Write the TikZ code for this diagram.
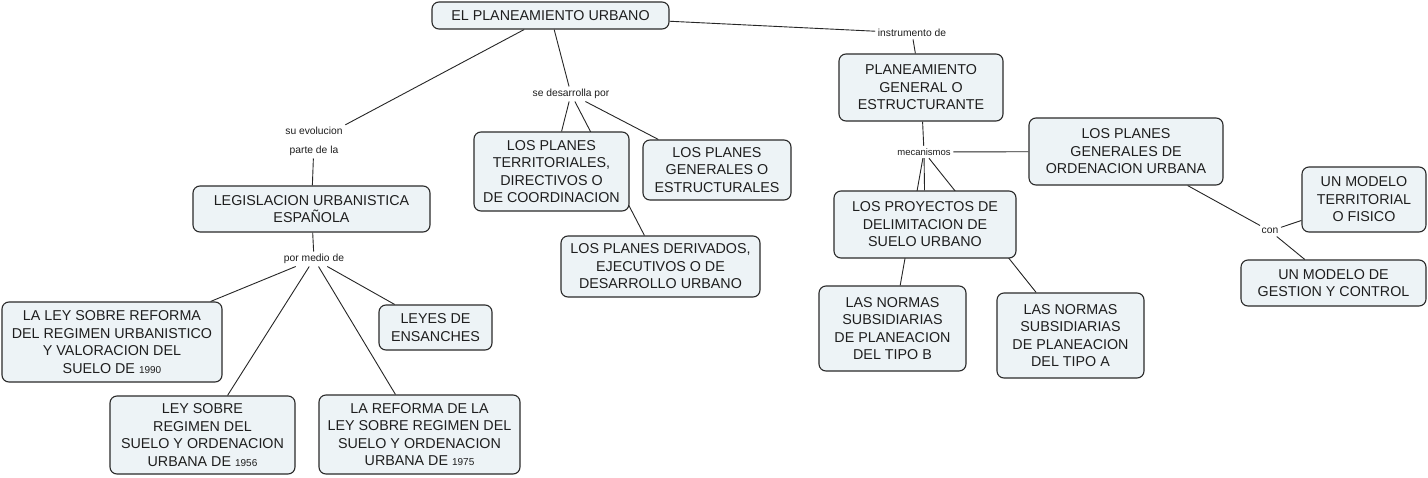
\documentclass[tikz,border=0pt]{standalone}
\usepackage{fontspec}
\setmainfont{Liberation Sans}
\usetikzlibrary{backgrounds}
\definecolor{boxfill}{HTML}{EDF3F6}
\definecolor{boxline}{HTML}{2A2A2A}
\definecolor{boxtext}{HTML}{1E1E1E}
\tikzset{
  cbox/.style={draw=boxline, line width=1.1pt, fill=boxfill, rounded corners=7pt,
    align=center, inner sep=2pt, text=boxtext,
    font=\fontsize{14.3}{17.5}\selectfont},
  clabel/.style={align=center, inner sep=2.5pt, text=boxtext,
    font=\fontsize{10.3}{19}\selectfont},
  conn/.style={draw=black!85, line width=0.9pt},
}
\newcommand{\yr}[1]{{\fontsize{10}{17.5}\selectfont #1}}
\begin{document}
\begin{tikzpicture}[x=1pt,y=-1pt]
\useasboundingbox (0,0) rectangle (1428,477);
% boxes
\node[cbox, minimum width=237pt, minimum height=27pt] (root) at (550.5,15.5) {EL PLANEAMIENTO URBANO};
\node[cbox, minimum width=164pt, minimum height=67pt] (pg) at (921,87.5) {PLANEAMIENTO\\GENERAL O\\ESTRUCTURANTE};
\node[cbox, minimum width=237pt, minimum height=46pt] (leg) at (311.5,209) {LEGISLACION URBANISTICA\\ESPAÑOLA};
\node[cbox, minimum width=155pt, minimum height=79pt] (terr) at (551.5,171.5) {LOS PLANES\\TERRITORIALES,\\DIRECTIVOS O\\DE COORDINACION};
\node[cbox, minimum width=148pt, minimum height=60pt] (estr) at (717,170) {LOS PLANES\\GENERALES O\\ESTRUCTURALES};
\node[cbox, minimum width=199pt, minimum height=61pt] (der) at (660.5,266.5) {LOS PLANES DERIVADOS,\\EJECUTIVOS O DE\\DESARROLLO URBANO};
\node[cbox, minimum width=220pt, minimum height=80pt] (ley90) at (112,342) {LA LEY SOBRE REFORMA\\DEL REGIMEN URBANISTICO\\Y VALORACION DEL\\SUELO DE \yr{1990}};
\node[cbox, minimum width=113pt, minimum height=45pt] (ens) at (435.5,327.5) {LEYES DE\\ENSANCHES};
\node[cbox, minimum width=185pt, minimum height=78pt] (ley56) at (202.5,435) {LEY SOBRE\\REGIMEN DEL\\SUELO Y ORDENACION\\URBANA DE \yr{1956}};
\node[cbox, minimum width=201pt, minimum height=79pt] (ley75) at (419.5,434.5) {LA REFORMA DE LA\\LEY SOBRE REGIMEN DEL\\SUELO Y ORDENACION\\URBANA DE \yr{1975}};
\node[cbox, minimum width=194pt, minimum height=67pt] (pgou) at (1126,151.5) {LOS PLANES\\GENERALES DE\\ORDENACION URBANA};
\node[cbox, minimum width=182pt, minimum height=67pt] (proy) at (925,224.5) {LOS PROYECTOS DE\\DELIMITACION DE\\SUELO URBANO};
\node[cbox, minimum width=147pt, minimum height=85pt] (nb) at (892.5,328.5) {LAS NORMAS\\SUBSIDIARIAS\\DE PLANEACION\\DEL TIPO B};
\node[cbox, minimum width=147pt, minimum height=85pt] (na) at (1070.5,335.5) {LAS NORMAS\\SUBSIDIARIAS\\DE PLANEACION\\DEL TIPO A};
\node[cbox, minimum width=124pt, minimum height=65pt] (terrf) at (1364,199.5) {UN MODELO\\TERRITORIAL\\O FISICO};
\node[cbox, minimum width=185pt, minimum height=46pt] (gest) at (1333.5,283) {UN MODELO DE\\GESTION Y CONTROL};
% labels
\node[clabel] (inst) at (912,33) {instrumento de};
\node[clabel] (sdp) at (571,94) {se desarrolla por};
\node[clabel] (suev) at (314,141.5) {su evolucion\\parte de la};
\node[clabel] (pmd) at (314,259) {por medio de};
\node[clabel, font=\fontsize{9.5}{12}\selectfont] (mec) at (924,152) {mecanismos};
\node[clabel] (con) at (1270,231) {con};
% connectors
\begin{pgfonlayer}{background}
\fill[white] (0,0) rectangle (1428,477);
\draw[conn] (root) -- (inst);
\draw[conn] (inst) -- (pg);
\draw[conn] (root) -- (suev);
\draw[conn] (suev) -- (leg);
\draw[conn] (leg) -- (pmd);
\draw[conn] (pmd) -- (ley90);
\draw[conn] (pmd) -- (ley56);
\draw[conn] (pmd) -- (ley75);
\draw[conn] (pmd) -- (ens);
\draw[conn] (root) -- (sdp);
\draw[conn] (sdp) -- (terr);
\draw[conn] (sdp) -- (der);
\draw[conn] (sdp) -- (estr);
\draw[conn] (pg) -- (mec);
\draw[conn] (mec) -- (pgou);
\draw[conn] (mec) -- (proy);
\draw[conn] (mec) -- (nb);
\draw[conn] (mec) -- (na);
\draw[conn] (pgou) -- (con);
\draw[conn] (con) -- (terrf);
\draw[conn] (con) -- (gest);
\end{pgfonlayer}
\end{tikzpicture}
\end{document}
